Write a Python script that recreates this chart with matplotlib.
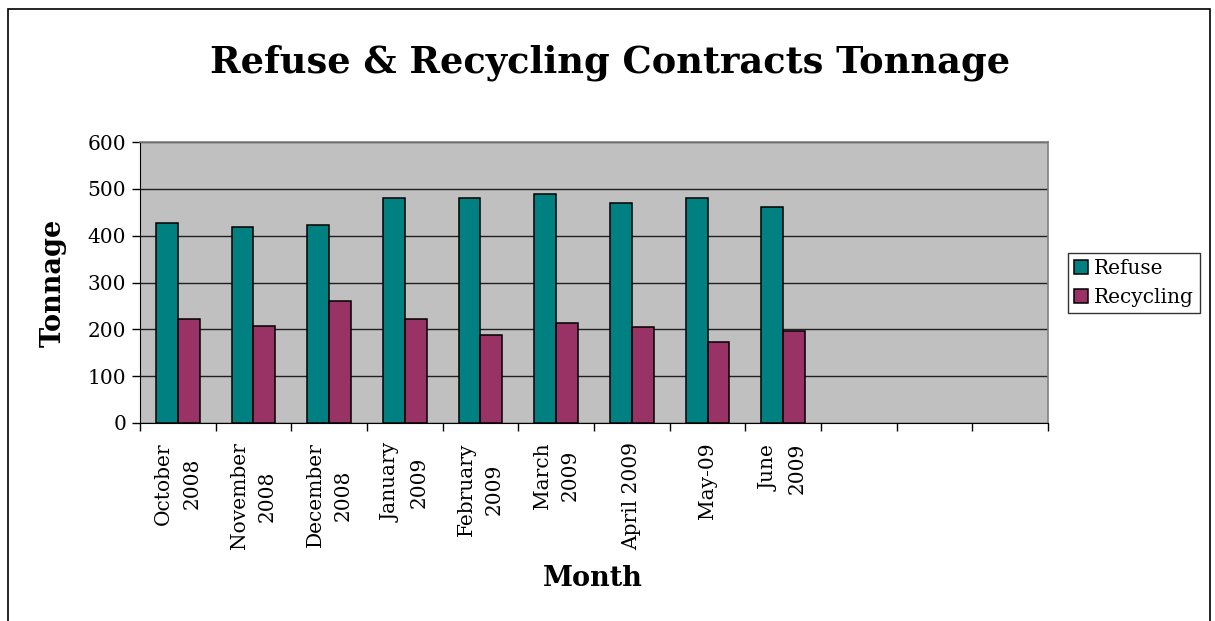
import numpy as np
import matplotlib.pyplot as plt
from matplotlib.patches import Rectangle

# data
months = ["October\n2008", "November\n2008", "December\n2008", "January\n2009",
          "February\n2009", "March\n2009", "April 2009", "May-09", "June\n2009",
          "", "", ""]
refuse = [426, 419, 423, 480, 480, 489, 469, 480, 461]
recycling = [223, 207, 261, 223, 188, 214, 204, 173, 196]

W, H = 1215, 621
fig = plt.figure(figsize=(W / 100, H / 100), dpi=100)
plt.rcParams['font.family'] = ['DejaVu Serif']

# outer chart border (open at the bottom, as in the reference)
fig.patches.append(Rectangle((8 / W, -0.1), (1210 - 8) / W, 1.1 - 9 / H,
                             transform=fig.transFigure, fill=False,
                             edgecolor='black', linewidth=1.2))

# plot area in pixels: x 140..1048, y 142..423
ax = fig.add_axes([140 / W, 1 - 423 / H, (1048 - 140) / W, (423 - 142) / H])
ax.set_facecolor('#C0C0C0')

n = len(months)
x = np.arange(n)
bw = 0.29
xr = np.arange(len(refuse))
ax.bar(xr - bw / 2, refuse, bw, color='#008080', edgecolor='black', linewidth=1.1,
       label='Refuse', zorder=3)
ax.bar(xr + bw / 2, recycling, bw, color='#993366', edgecolor='black', linewidth=1.1,
       label='Recycling', zorder=3)

ax.set_xlim(-0.5, n - 0.5)
ax.set_ylim(0, 600)
ax.set_yticks(np.arange(0, 601, 100))
ax.yaxis.grid(True, color='#202020', linewidth=1.0, zorder=1)
ax.set_axisbelow(True)

# ticks on category boundaries, labels at centres
ax.set_xticks(np.arange(n + 1) - 0.5)
ax.set_xticklabels([])
ax.set_xticks(x, minor=True)
labs = ax.set_xticklabels(months, minor=True, rotation=90, va='top', ha='center',
                          multialignment='center', fontsize=14.5)
for t in labs:
    t.set_linespacing(1.6)
ax.tick_params(axis='x', which='minor', length=0, pad=14)
ax.tick_params(axis='x', which='major', length=6, direction='out', width=1)
ax.tick_params(axis='y', length=6, direction='out', width=1, labelsize=14.5, pad=4)

for s in ['top', 'right']:
    ax.spines[s].set_color('#808080')
    ax.spines[s].set_linewidth(1.2)
ax.spines['left'].set_color('black')
ax.spines['bottom'].set_color('black')

fig.text(610 / W, 1 - 63 / H, "Refuse & Recycling Contracts Tonnage",
         ha='center', va='center', fontsize=26.5, fontweight='bold')
fig.text(53 / W, 1 - 283 / H, "Tonnage", rotation=90, ha='center', va='center',
         fontsize=19.5, fontweight='bold')
fig.text(593 / W, 1 - 579 / H, "Month", ha='center', va='center',
         fontsize=19.5, fontweight='bold')

leg = fig.legend(loc='center left', bbox_to_anchor=(1068 / W, 1 - 283 / H),
                 fontsize=14.5, frameon=True, fancybox=False, edgecolor='black',
                 handlelength=0.7, handleheight=0.7, handletextpad=0.3,
                 borderpad=0.3, labelspacing=0.5, borderaxespad=0)
leg.get_frame().set_linewidth(1.0)

fig.savefig('out.png', dpi=100)
